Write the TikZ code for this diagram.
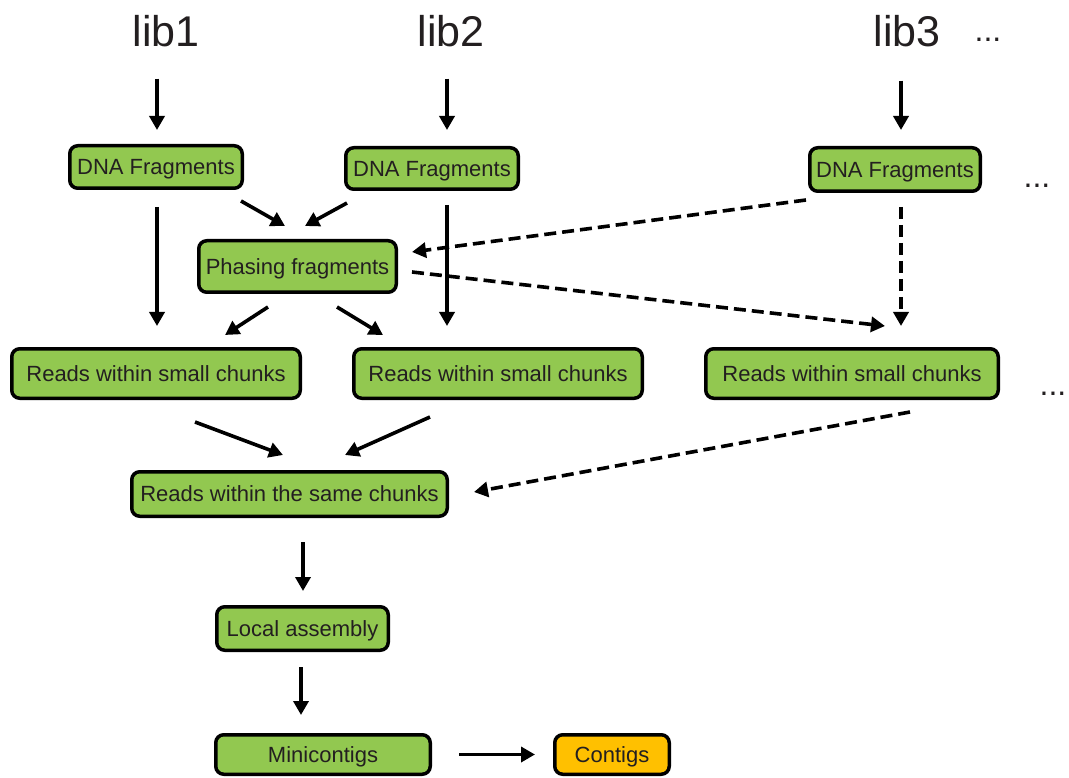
\documentclass[tikz,border=0pt]{standalone}
\usepackage{fontspec}
\setmainfont{Liberation Sans}
\usepackage{xcolor}
\usepackage{tikz}
\usetikzlibrary{arrows.meta}

\definecolor{boxgreen}{RGB}{146,200,80}
\definecolor{boxorange}{RGB}{255,192,0}
\definecolor{inkgray}{RGB}{35,31,32}

\begin{document}
\begin{tikzpicture}[x=1pt,y=-1pt,
  box/.style={draw=black,line width=3.5pt,rounded corners=8pt,fill=boxgreen,
    text=inkgray,font=\fontsize{22}{26}\selectfont,inner sep=1pt,
    text height=15.8pt,text depth=0pt},
  lib/.style={font=\fontsize{43}{50}\selectfont,text=inkgray,inner sep=0pt,anchor=base},
  more/.style={font=\fontsize{32}{36}\selectfont,text=inkgray,inner sep=0pt,anchor=base},
  flow/.style={line width=3.6pt,-{Triangle[length=14pt,width=15pt]}},
  dflow/.style={flow,dash pattern=on 12pt off 6pt}]
  \useasboundingbox (0,0) rectangle (1069,778);

  % library labels
  \node[lib] (lib1) at (166,47) {lib1};
  \node[lib] (lib2) at (451,47) {lib2};
  \node[lib] (lib3) at (907,47) {lib3};
  \node[more] (libmore) at (988,42) {...};

  % boxes
  \node[box,minimum width=172.5pt,minimum height=42.5pt] (dna1) at (156,167) {DNA Fragments};
  \node[box,minimum width=172.5pt,minimum height=41.5pt] (dna2) at (432,168.5) {DNA Fragments};
  \node[box,minimum width=170.5pt,minimum height=43.5pt] (dna3) at (895,169.5) {DNA Fragments};
  \node[more] (dnamore) at (1037,188) {...};
  \node[box,minimum width=197.5pt,minimum height=51.5pt] (phase) at (297.5,266.5) {Phasing fragments};
  \node[box,minimum width=288.5pt,minimum height=49.5pt] (reads1) at (156,373.5) {Reads within small chunks};
  \node[box,minimum width=288.5pt,minimum height=49.5pt] (reads2) at (498,373.5) {Reads within small chunks};
  \node[box,minimum width=292.5pt,minimum height=49.5pt] (reads3) at (852,373.5) {Reads within small chunks};
  \node[more] (readsmore) at (1053,395) {...};
  \node[box,minimum width=315.5pt,minimum height=44.5pt] (same) at (289.5,494) {Reads within the same chunks};
  \node[box,minimum width=171.5pt,minimum height=43.5pt] (local) at (302.5,628.5) {Local assembly};
  \node[box,minimum width=214.5pt,minimum height=39.5pt] (mini) at (323,754.5) {Minicontigs};
  \node[box,fill=boxorange,minimum width=114.5pt,minimum height=39.5pt] (contigs) at (612,754.5) {Contigs};

  % solid arrows
  \draw[flow] ([xshift=-9pt,yshift=-31pt]lib1.south) -- ([xshift=1pt,yshift=14pt]dna1.north);
  \draw[flow] ([xshift=-4pt,yshift=-31pt]lib2.south) -- ([xshift=15pt,yshift=16pt]dna2.north);
  \draw[flow] ([xshift=-6pt,yshift=-33pt]lib3.south) -- ([xshift=6pt,yshift=16pt]dna3.north);
  \draw[flow] ([xshift=85pt,yshift=-11pt]dna1.south) -- ([xshift=-12.5pt,yshift=13pt]phase.north);
  \draw[flow] ([xshift=-85pt,yshift=-12pt]dna2.south) -- ([xshift=7.5pt,yshift=13pt]phase.north);
  \draw[flow] ([xshift=1pt,yshift=-17pt]dna1.south) -- ([xshift=1pt,yshift=21pt]reads1.north);
  \draw[flow] ([xshift=15pt,yshift=-14pt]dna2.south) -- ([xshift=-51pt,yshift=21pt]reads2.north);
  \draw[flow] ([xshift=-29.5pt,yshift=-13pt]phase.south) -- ([xshift=69pt,yshift=12pt]reads1.north);
  \draw[flow] ([xshift=39.5pt,yshift=-13pt]phase.south) -- ([xshift=-115pt,yshift=12pt]reads2.north);
  \draw[flow] ([xshift=39pt,yshift=-22pt]reads1.south) -- ([xshift=-6.5pt,yshift=15pt]same.north);
  \draw[flow] ([xshift=-68pt,yshift=-17pt]reads2.south) -- ([xshift=55.5pt,yshift=15pt]same.north);
  \draw[flow] ([xshift=13.5pt,yshift=-24pt]same.south) -- ([xshift=0.5pt,yshift=14pt]local.north);
  \draw[flow] ([xshift=-1.5pt,yshift=-15pt]local.south) -- ([xshift=-22pt,yshift=18pt]mini.north);
  \draw[flow] ([xshift=27pt]mini.east) -- ([xshift=-18pt]contigs.west);

  % dashed arrows from lib3
  \draw[dflow] ([xshift=-2pt,yshift=-7pt]dna3.south west) -- ([xshift=14pt,yshift=14.5pt]phase.east);
  \draw[dflow] ([xshift=6pt,yshift=-14pt]dna3.south) -- ([xshift=49pt,yshift=21pt]reads3.north);
  \draw[dflow] ([xshift=14pt,yshift=-5.5pt]phase.east) -- ([xshift=33pt,yshift=21pt]reads3.north);
  \draw[dflow] ([xshift=58pt,yshift=-12pt]reads3.south) -- ([xshift=25pt,yshift=2pt]same.east);
\end{tikzpicture}
\end{document}
